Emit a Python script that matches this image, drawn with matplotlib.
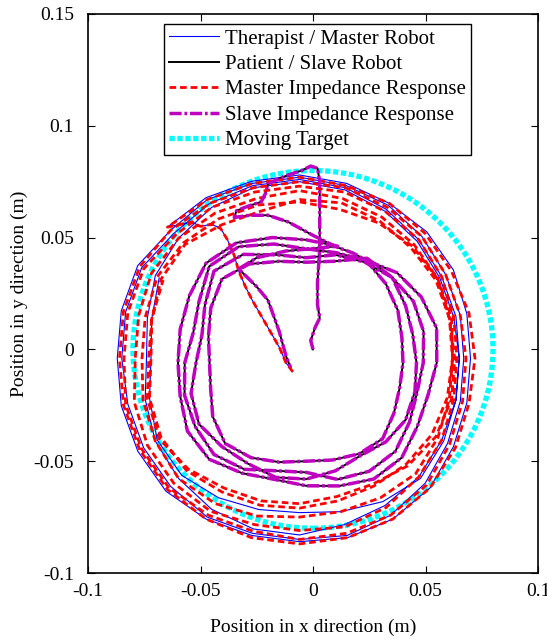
import numpy as np
import matplotlib
matplotlib.use('Agg')
import matplotlib.pyplot as plt
from matplotlib.lines import Line2D
from matplotlib.patches import Circle
from matplotlib.ticker import FormatStrFormatter

plt.rcParams['font.family'] = ['Liberation Serif', 'DejaVu Serif']
plt.rcParams['font.size'] = 14

# moving target: circle of radius 0.08 m around the origin
target_center = (0.0, 0.0)
target_radius = 0.08

# start of the master side path (m), read point by point
start_x = [-0.009, -0.012, -0.015, -0.019, -0.023, -0.027, -0.030, -0.033,
           -0.035, -0.038, -0.041, -0.045, -0.050, -0.054]
start_y = [-0.010, -0.006, 0.001, 0.008, 0.015, 0.022, 0.028, 0.035,
           0.042, 0.049, 0.054, 0.056, 0.055, 0.057]

# outer loops, radius (m) at each angle around the outer centre
outer_center = (-0.006, -0.004)
outer_angles = [135, 120, 105, 90, 75, 60, 45, 30, 15, 0, -15, -30,
                -45, -60, -75, -90, -105, -120, -135, -150, -165, -180, -195, -210]

master_loops = [
    [0.083, 0.083, 0.082, 0.082, 0.081, 0.080, 0.080, 0.079, 0.077, 0.076, 0.077, 0.079,
     0.082, 0.083, 0.083, 0.082, 0.082, 0.083, 0.084, 0.083, 0.082, 0.081, 0.082, 0.083],
    [0.081, 0.082, 0.081, 0.081, 0.080, 0.079, 0.077, 0.075, 0.074, 0.073, 0.074, 0.076,
     0.079, 0.081, 0.082, 0.081, 0.081, 0.082, 0.081, 0.080, 0.079, 0.079, 0.080, 0.081],
    [0.079, 0.080, 0.080, 0.080, 0.079, 0.077, 0.075, 0.073, 0.072, 0.071, 0.072, 0.073,
     0.075, 0.076, 0.077, 0.079, 0.079, 0.078, 0.076, 0.074, 0.071, 0.068, 0.070, 0.074],
    [0.076, 0.078, 0.079, 0.079, 0.078, 0.076, 0.074, 0.072, 0.071, 0.071, 0.072, 0.074,
     0.076, 0.074, 0.071, 0.069, 0.070, 0.072, 0.074, 0.073, 0.069, 0.066, 0.068, 0.072],
]

master_imp_loops = [
    [0.083, 0.082, 0.081, 0.081, 0.080, 0.080, 0.079, 0.078, 0.078, 0.078, 0.078, 0.080,
     0.082, 0.083, 0.083, 0.083, 0.083, 0.083, 0.083, 0.082, 0.081, 0.080, 0.081, 0.082],
    [0.081, 0.080, 0.079, 0.079, 0.079, 0.078, 0.077, 0.075, 0.074, 0.074, 0.075, 0.077,
     0.080, 0.081, 0.081, 0.081, 0.080, 0.081, 0.082, 0.081, 0.080, 0.078, 0.079, 0.080],
    [0.078, 0.078, 0.077, 0.077, 0.077, 0.076, 0.075, 0.073, 0.071, 0.070, 0.071, 0.073,
     0.075, 0.077, 0.078, 0.077, 0.077, 0.079, 0.079, 0.078, 0.076, 0.073, 0.074, 0.076],
    [0.076, 0.075, 0.074, 0.075, 0.074, 0.073, 0.072, 0.071, 0.070, 0.068, 0.069, 0.071,
     0.073, 0.072, 0.071, 0.071, 0.073, 0.075, 0.076, 0.074, 0.072, 0.070, 0.071, 0.073],
    [0.073, 0.072, 0.071, 0.070, 0.069, 0.070, 0.071, 0.071, 0.069, 0.068, 0.068, 0.068,
     0.067, 0.066, 0.066, 0.067, 0.068, 0.069, 0.071, 0.071, 0.069, 0.066, 0.068, 0.071],
    [0.072, 0.069, 0.068, 0.071, 0.072, 0.071, 0.070, 0.070, 0.069, 0.069, 0.070, 0.070,
     0.068, 0.065, 0.064, 0.065, 0.066, 0.067, 0.070, 0.072, 0.070, 0.067, 0.068, 0.070],
]

# patient side: straight reach up, hook, then the inner loops
slave_start_x = [0.000, -0.001, 0.001, 0.003, 0.002, 0.002, 0.003, 0.003, 0.003, 0.002,
                 -0.001, -0.005, -0.011, -0.016, -0.020, -0.021, -0.023, -0.029, -0.034,
                 -0.035, -0.028, -0.020, -0.011, 0.000, 0.010, 0.018]
slave_start_y = [0.000, 0.004, 0.010, 0.014, 0.020, 0.030, 0.045, 0.060, 0.075, 0.081,
                 0.082, 0.080, 0.078, 0.076, 0.074, 0.070, 0.066, 0.064, 0.062,
                 0.059, 0.060, 0.060, 0.057, 0.051, 0.046, 0.043]

inner_center = (-0.003, -0.006)
inner_angles = [60, 45, 30, 15, 0, -15, -30, -45, -60, -75, -90, -105,
                -120, -135, -150, -165, -180, -195, -210, -225, -240, -255, -270, -285]

slave_loops = [
    [0.053, 0.050, 0.047, 0.044, 0.043, 0.043, 0.045, 0.048, 0.047, 0.045, 0.044, 0.046,
     0.049, 0.051, 0.048, 0.044, 0.043, 0.045, 0.049, 0.053, 0.051, 0.047, 0.045, 0.047],
    [0.054, 0.054, 0.051, 0.049, 0.049, 0.050, 0.051, 0.050, 0.048, 0.050, 0.052, 0.053,
     0.052, 0.053, 0.055, 0.053, 0.049, 0.048, 0.052, 0.058, 0.056, 0.050, 0.047, 0.050],
    [0.052, 0.054, 0.055, 0.054, 0.052, 0.051, 0.053, 0.056, 0.056, 0.054, 0.049, 0.050,
     0.055, 0.058, 0.057, 0.056, 0.054, 0.052, 0.055, 0.061, 0.060, 0.055, 0.051, 0.051],
    [0.053, 0.057, 0.059, 0.060, 0.058, 0.056, 0.057, 0.060, 0.060, 0.057, 0.055, 0.054,
     0.057, 0.061, 0.061, 0.058, 0.057, 0.058, 0.060, 0.063, 0.062, 0.058, 0.055, 0.054],
]

slave_end_x = [-0.012, -0.025, -0.033, -0.025, -0.020, -0.015, -0.012, -0.010]
slave_end_y = [0.044, 0.041, 0.036, 0.028, 0.022, 0.008, -0.003, -0.008]


def loops_to_xy(center, angles, loops):
    a = np.deg2rad(angles)
    xs, ys = [], []
    for r in loops:
        r = np.asarray(r)
        xs.append(center[0] + r * np.cos(a))
        ys.append(center[1] + r * np.sin(a))
    return np.concatenate(xs), np.concatenate(ys)


mx, my = loops_to_xy(outer_center, outer_angles, master_loops)
master_x = np.concatenate([start_x, mx])
master_y = np.concatenate([start_y, my])

rx, ry = loops_to_xy(outer_center, outer_angles, master_imp_loops)
master_imp_x = np.concatenate([start_x, rx])
master_imp_y = np.concatenate([start_y, ry])

sx, sy = loops_to_xy(inner_center, inner_angles, slave_loops)
slave_x = np.concatenate([slave_start_x, sx, slave_end_x])
slave_y = np.concatenate([slave_start_y, sy, slave_end_y])

fig = plt.figure(figsize=(5.47, 6.39), dpi=100)
ax = fig.add_axes([88 / 547, 66 / 639, 450 / 547, 559 / 639])

st_master = dict(color='b', lw=0.8)
st_slave = dict(color='k', lw=1.4)
st_mimp = dict(color='r', lw=2, ls=(0, (2.4, 1.4)))
st_simp = dict(color='m', lw=2.5, ls=(0, (3.5, 0.8, 0.8, 0.8)))
st_target = dict(color='cyan', lw=3.8, ls=(0, (1, 0.5)))

ax.plot(master_x, master_y, **st_master)
ax.plot(slave_x, slave_y, **st_slave)
ax.plot(master_imp_x, master_imp_y, **st_mimp)
ax.plot(slave_x, slave_y, **st_simp)
ax.add_patch(Circle(target_center, target_radius, fill=False, ec=st_target['color'],
                    lw=st_target['lw'], ls=st_target['ls']))

handles = [Line2D([], [], **st) for st in (st_master, st_slave, st_mimp, st_simp, st_target)]
labels = ['Therapist / Master Robot', 'Patient / Slave Robot',
          'Master Impedance Response', 'Slave Impedance Response', 'Moving Target']
leg = ax.legend(handles, labels, loc='upper center', bbox_to_anchor=(0.51, 0.99),
                fancybox=False, framealpha=1, edgecolor='k', fontsize=15,
                handlelength=2.4, borderpad=0.25, labelspacing=0.28, handletextpad=0.3,
                borderaxespad=0.2)
leg.get_frame().set_linewidth(1.0)

ax.set_xlim(-0.1, 0.1)
ax.set_ylim(-0.1, 0.15)
ax.set_xticks([-0.1, -0.05, 0, 0.05, 0.1])
ax.set_yticks([-0.1, -0.05, 0, 0.05, 0.1, 0.15])
ax.xaxis.set_major_formatter(FormatStrFormatter('%g'))
ax.yaxis.set_major_formatter(FormatStrFormatter('%g'))
ax.tick_params(direction='in', top=True, right=True, length=5, labelsize=14)
ax.tick_params(axis='x', pad=7)
ax.tick_params(axis='y', pad=10)
for s in ax.spines.values():
    s.set_linewidth(1.2)

ax.set_xlabel('Position in x direction (m)', fontsize=14, labelpad=14)
ax.set_ylabel('Position in y direction (m)', fontsize=14, labelpad=4)

fig.savefig('out.png', dpi=100)
